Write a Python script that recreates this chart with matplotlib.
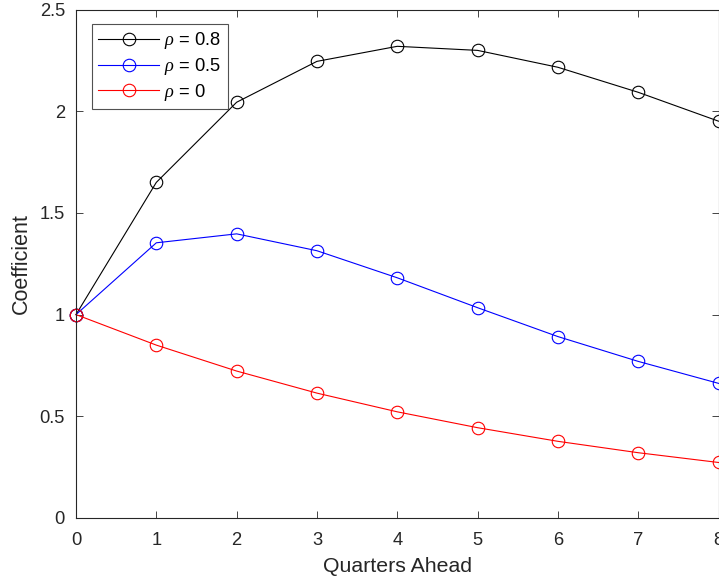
import matplotlib
matplotlib.use("Agg")
import matplotlib.pyplot as plt

quarters = [0, 1, 2, 3, 4, 5, 6, 7, 8]
rho_08 = [1.0, 1.65, 2.044, 2.245, 2.319, 2.299, 2.216, 2.093, 1.951]
rho_05 = [1.0, 1.353, 1.397, 1.314, 1.181, 1.034, 0.892, 0.770, 0.662]
rho_00 = [1.0, 0.85, 0.7225, 0.614, 0.522, 0.444, 0.377, 0.321, 0.273]
labels = [r"$\rho$ = 0.8", r"$\rho$ = 0.5", r"$\rho$ = 0"]
colors = ["black", "blue", "red"]

plt.rcParams['font.family'] = ['Liberation Sans', 'DejaVu Sans']
plt.rcParams['mathtext.fontset'] = 'custom'
plt.rcParams['mathtext.it'] = 'Liberation Serif:italic'
plt.rcParams['mathtext.rm'] = 'Liberation Sans'

fig = plt.figure(figsize=(7.19, 5.80), dpi=100)
ax_left, ax_right, ax_top, ax_bot = 76, 718.5, 9.5, 518
ax = fig.add_axes([ax_left/719, 1-ax_bot/580, (ax_right-ax_left)/719, (ax_bot-ax_top)/580])

for y, lab, c in zip([rho_08, rho_05, rho_00], labels, colors):
    ax.plot(quarters, y, color=c, lw=0.8, marker='o', markersize=9,
            markerfacecolor='none', markeredgecolor=c, markeredgewidth=0.8,
            label=lab, clip_on=False)

ax.set_xlim(0, 8)
ax.set_ylim(0, 2.5)
ax.set_xticks(range(0, 9))
ax.set_yticks([0, 0.5, 1, 1.5, 2, 2.5])
ax.set_yticklabels(["0", "0.5", "1", "1.5", "2", "2.5"])
axc = '#262626'
for s in ax.spines.values():
    s.set_color(axc)
    s.set_linewidth(0.8)
ax.tick_params(direction='in', length=5, width=0.6, color=axc, labelcolor=axc,
               labelsize=13.2, top=True, right=True)
ax.tick_params(axis='x', pad=10)
ax.tick_params(axis='y', pad=8)
ax.set_xlabel("Quarters Ahead", fontsize=15.3, color=axc, labelpad=6)
ax.set_ylabel("Coefficient", fontsize=15.5, color=axc, labelpad=5.5)

w = ax_right - ax_left
h = ax_bot - ax_top
leg = ax.legend(loc='upper left', bbox_to_anchor=((92-ax_left)/w, 1-(24-ax_top)/h), fontsize=13.2,
                frameon=True, fancybox=False, borderaxespad=0, handlelength=3.3,
                borderpad=0.35, labelspacing=0.25, handletextpad=0.3)
leg.get_frame().set_edgecolor(axc)
leg.get_frame().set_linewidth(0.8)

fig.savefig("out.png", dpi=100)
